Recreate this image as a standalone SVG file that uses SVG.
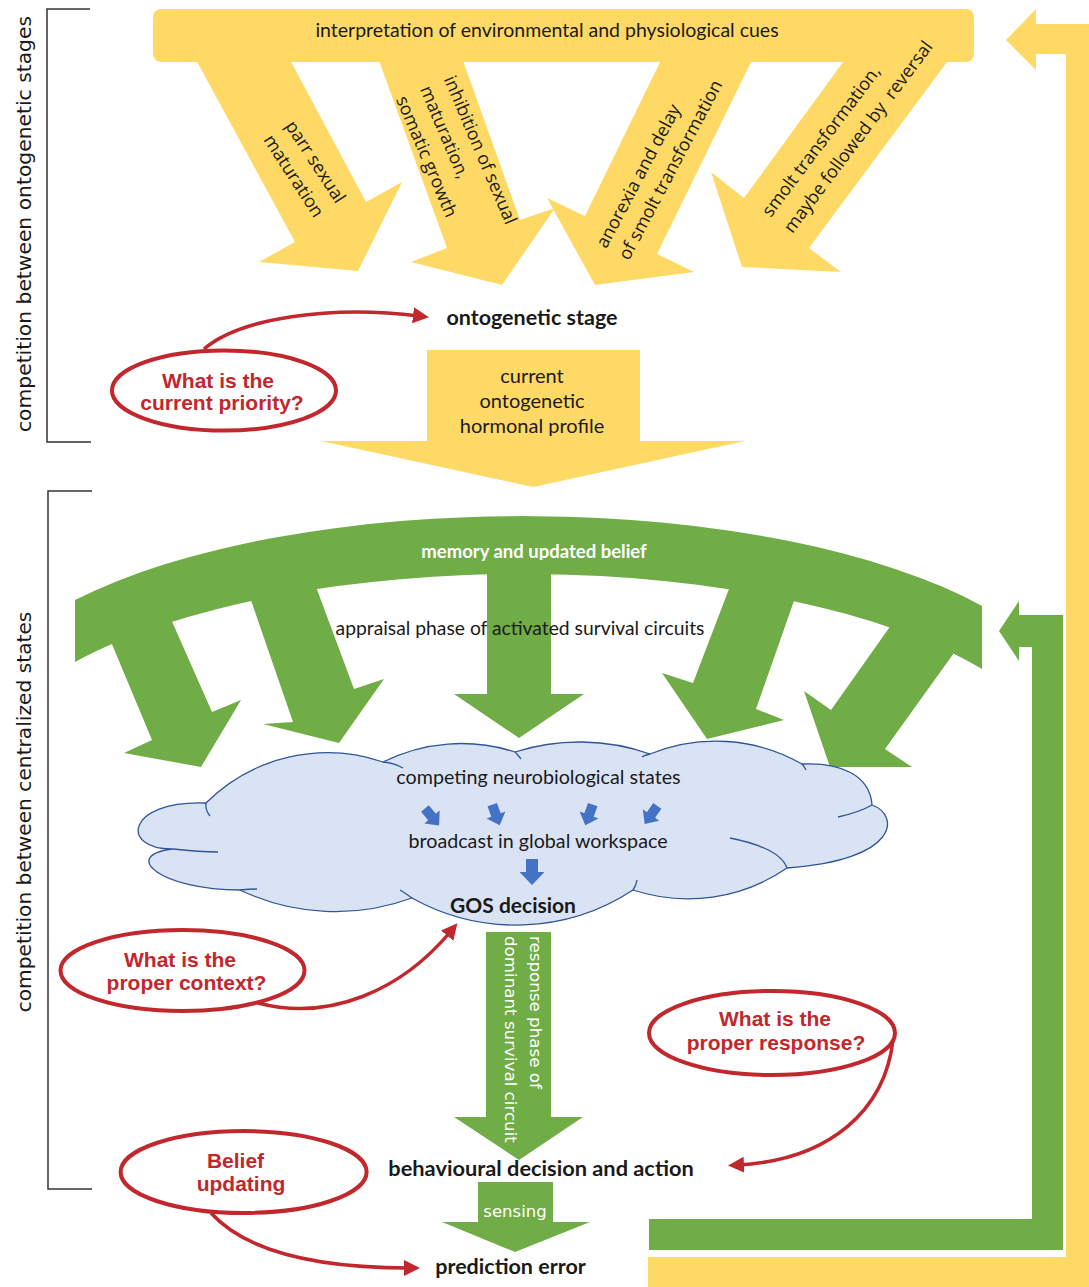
<svg xmlns="http://www.w3.org/2000/svg" width="1089" height="1287" viewBox="0 0 1089 1287">
<style>
.yel{fill:#FFD966}
.grn{fill:#70AD47}
.cal{font-family:Lato,'Liberation Sans',sans-serif;fill:#1a1a1a}
.b{font-weight:bold}
.mid{text-anchor:middle}
.os{font-family:'Open Sans','Liberation Sans',sans-serif;font-size:18px;fill:#1a1a1a;dominant-baseline:middle}
.cg{font-family:'DejaVu Sans','Liberation Sans',sans-serif}
.red{font-family:'Liberation Sans',Arial,sans-serif;font-weight:bold;font-size:21px;fill:#C1272D;text-anchor:middle}
.ell{fill:#fff;stroke:#C1272D;stroke-width:4}
.con{fill:none;stroke:#C1272D;stroke-width:3.5;marker-end:url(#ah)}
.brk{fill:none;stroke:#333;stroke-width:1.5}
.cloud{fill:#DAE3F3;stroke:#2F5597;stroke-width:1.3}
.hook{fill:none;stroke:#2F5597;stroke-width:1.3}
</style>
<defs>
<marker id="ah" markerUnits="userSpaceOnUse" markerWidth="18" markerHeight="18" refX="6" refY="8" orient="auto"><path d="M0,0 L16,8 L0,16 Z" fill="#C1272D"/></marker>
<path id="ba" d="M -5 -11 L 5 -11 L 5 0 L 10 0 L 0 11 L -10 0 L -5 0 Z" fill="#4472C4"/>
</defs>
<rect x="0" y="0" width="1089" height="1287" fill="#fff"/>

<g id="brackets">
<path class="brk" d="M 90 9 L 47 9 L 47 442 L 91 442"/>
<path class="brk" d="M 92 491 L 48 491 L 48 1189 L 92 1189"/>
<text class="cg mid" font-size="20.3" fill="#1a1a1a" transform="translate(31,224) rotate(-90)">competition between ontogenetic stages</text>
<text class="cg mid" font-size="20.2" fill="#1a1a1a" transform="translate(31,812) rotate(-90)">competition between centralized states</text>
</g>

<g id="feedback-yellow">
<path class="yel" d="M 648 1257 L 1066 1257 L 1066 54 L 1036 54 L 1036 70 L 1006 40 L 1036 9 L 1036 24 L 1089 24 L 1089 1287 L 648 1287 Z"/>
</g>
<g id="feedback-green">
<path class="grn" d="M 649 1219 L 1032 1219 L 1032 647 L 1019 647 L 1019 661 L 999 631 L 1019 601 L 1019 615 L 1063 615 L 1063 1250 L 649 1250 Z"/>
</g>

<g id="cues-bar">
<rect class="yel" x="153" y="9" width="821" height="53" rx="8"/>
<text class="cal mid" x="547" y="37" font-size="19.5">interpretation of environmental and physiological cues</text>
</g>

<g id="arrow-parr">
<polygon class="yel" points="195,58 295,242 259,262 358,271 402,182 366,202 289,58"/>
<g transform="translate(314.5,162.5) rotate(57)">
<text class="os mid" x="0" y="0">parr sexual</text>
<text class="os mid" x="0" y="26">maturation</text>
</g>
</g>
<g id="arrow-inhibition">
<polygon class="yel" points="378,58 447,248 411,262 502,285 555,208 520,220 462,58"/>
<g transform="translate(448,77) rotate(67)">
<text class="os" x="0" y="0">inhibition of sexual</text>
<text class="os" x="0" y="26">maturation,</text>
<text class="os" x="0" y="52">somatic growth</text>
</g>
</g>
<g id="arrow-anorexia">
<polygon class="yel" points="662,58 585,216 547,198 595,285 694,272 657,254 753,58"/>
<g transform="translate(602,247) rotate(-62)">
<text class="os" x="0" y="0">anorexia and delay</text>
<text class="os" x="0" y="25.5">of smolt transformation</text>
</g>
</g>
<g id="arrow-smolt">
<polygon class="yel" points="846,58 744,198 711,172 742,267 841,272 809,248 950,58"/>
<g transform="translate(767,215) rotate(-53)">
<text class="os" x="0" y="0">smolt transformation,</text>
<text class="os" x="0" y="27" xml:space="preserve">maybe followed by  reversal</text>
</g>
</g>

<g id="ontogenetic-stage">
<text class="cal b mid" x="532" y="325" font-size="21.5">ontogenetic stage</text>
</g>

<g id="hormonal-profile">
<polygon class="yel" points="427,350 640,350 640,441 745,441 533,487 321,441 427,441"/>
<text class="cal mid" x="532" y="383" font-size="20">current</text>
<text class="cal mid" x="532" y="408" font-size="20">ontogenetic</text>
<text class="cal mid" x="532" y="433" font-size="20">hormonal profile</text>
</g>

<g id="memory-arc">
<path class="grn" d="M 75 600 A 550 200 0 0 1 982 606 L 982 669 A 540 200 0 0 0 75 662 Z"/>
<text class="cal b mid" x="534" y="558" font-size="18.5" style="fill:#fff">memory and updated belief</text>
</g>

<g id="appraisal-arrows">
<polygon class="grn" points="96,606 152,740 124,753 201,767 241,700 212,712 159,592"/>
<polygon class="grn" points="244,580 293,722 263,724 339,743 384,679 354,689 309,568"/>
<polygon class="grn" points="487,560 487,694 454,694 519,738 584,694 551,694 551,560"/>
<polygon class="grn" points="737,568 693,683 662,673 707,739 784,720 756,709 802,578"/>
<polygon class="grn" points="906,604 831,710 804,691 830,767 912,767 885,749 969,632"/>
<text class="cal mid" x="520" y="635" font-size="19.3">appraisal phase of activated survival circuits</text>
</g>

<g id="cloud">
<path class="cloud" d="M 206 803 A 172 172 0 0 1 383 762 A 175 175 0 0 1 515 752 A 213 213 0 0 1 650 754 A 174 174 0 0 1 802 764 C 840 762 870 775 872 805 C 900 815 900 860 787 868 A 175 175 0 0 1 633 890 A 213 213 0 0 1 412 898 A 222 222 0 0 1 240 890 C 160 890 120 855 173 849 C 120 850 125 800 206 803 Z"/>
<path class="hook" d="M 206 803 Q 205 810 210 816 M 383 762 Q 395 763 403 768 M 515 752 Q 518 755 521 759 M 650 754 Q 645 755 642 757 M 802 764 Q 804 766 806 770 M 872 805 Q 860 812 838 817 M 730 838 Q 780 848 787 868 M 633 890 Q 636 886 637 880 M 412 898 Q 405 893 400 890 M 240 890 Q 250 889 257 889 M 173 849 Q 200 852 218 852"/>
<text class="cal mid" x="538.5" y="784" font-size="19.7">competing neurobiological states</text>
<use href="#ba" transform="translate(432,817) rotate(-40)"/>
<use href="#ba" transform="translate(496,815) rotate(-20)"/>
<use href="#ba" transform="translate(589,815) rotate(20)"/>
<use href="#ba" transform="translate(651,815) rotate(35)"/>
<text class="cal mid" x="538" y="848" font-size="19.7">broadcast in global workspace</text>
<path d="M 526 859 L 538 859 L 538 872 L 544.5 872 L 532 885 L 519.5 872 L 526 872 Z" fill="#4472C4"/>
<text class="cal b mid" x="513" y="913" font-size="21">GOS decision</text>
</g>

<g id="response-arrow">
<polygon class="grn" points="486,932 551,932 551,1117 583,1117 519,1160 454,1117 486,1117"/>
<text class="cg" font-size="16.7" fill="#fff" transform="translate(530,936) rotate(90)">response phase of</text>
<text class="cg" font-size="16.7" fill="#fff" transform="translate(505,936) rotate(90)">dominant survival circuit</text>
</g>

<g id="behavioural-decision">
<text class="cal b mid" x="541" y="1176" font-size="21.8">behavioural decision and action</text>
</g>

<g id="sensing-arrow">
<polygon class="grn" points="478,1182 553,1182 553,1222 590,1222 515,1252 442,1222 478,1222"/>
<text class="cg mid" x="515" y="1217" font-size="16.5" fill="#fff">sensing</text>
</g>

<g id="prediction-error">
<text class="cal b mid" x="510.5" y="1274" font-size="21.5">prediction error</text>
</g>

<g id="connectors">
<path class="con" d="M 204 349 C 240 318 330 305 419 316"/>
<path class="con" d="M 258 1003 C 330 1022 402 990 451 931"/>
<path class="con" d="M 211 1213 C 240 1245 300 1268 410 1268"/>
<path class="con" d="M 893 1040 C 885 1110 830 1160 738 1165"/>
</g>

<g id="q-priority">
<ellipse class="ell" cx="224" cy="390.5" rx="112" ry="40"/>
<text class="red" x="218" y="388">What is the</text>
<text class="red" x="222" y="410">current priority?</text>
</g>
<g id="q-context">
<ellipse class="ell" cx="182.5" cy="970.5" rx="122" ry="40.5"/>
<text class="red" x="180" y="967">What is the</text>
<text class="red" x="186.5" y="990">proper context?</text>
</g>
<g id="q-response">
<ellipse class="ell" cx="772" cy="1033" rx="123" ry="42"/>
<text class="red" x="775" y="1026">What is the</text>
<text class="red" x="776" y="1050">proper response?</text>
</g>
<g id="q-belief">
<ellipse class="ell" cx="243.6" cy="1172" rx="123" ry="41"/>
<text class="red" x="235.5" y="1168">Belief</text>
<text class="red" x="241" y="1191">updating</text>
</g>
</svg>
